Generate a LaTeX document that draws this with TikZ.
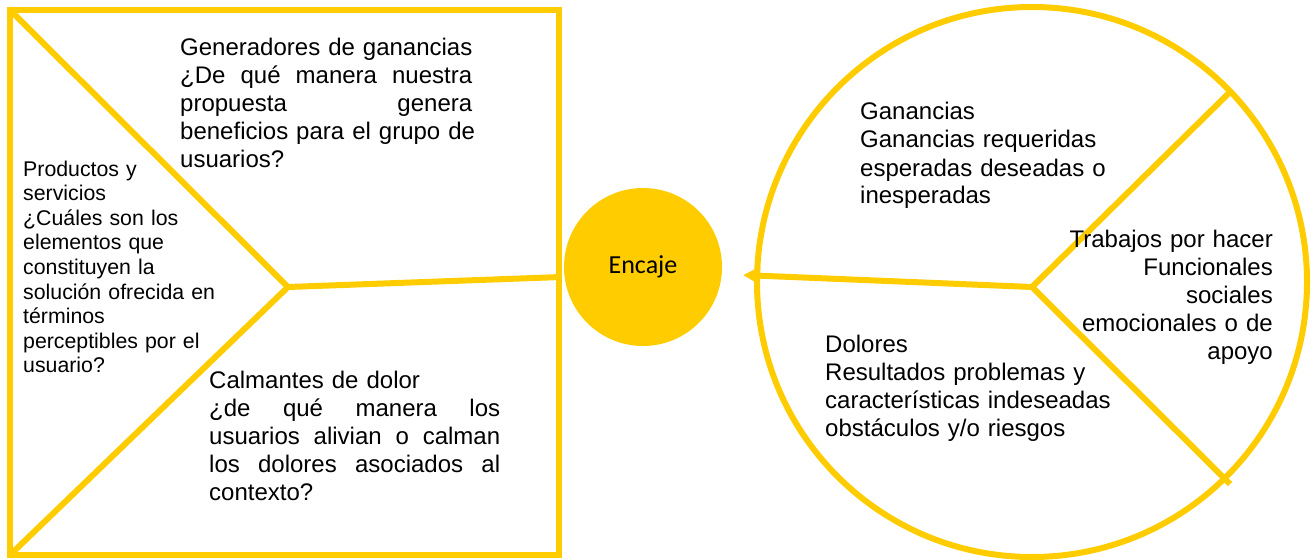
\documentclass[tikz,border=0pt]{standalone}
\usepackage{fontspec}
\setmainfont{Liberation Sans}
\newfontfamily\calib{Carlito}
\usetikzlibrary{arrows.meta}
\definecolor{yl}{HTML}{FFCC00}
\newcommand{\jline}[2]{\leavevmode\hbox to #1{#2}}
\begin{document}
\begin{tikzpicture}[x=1pt,y=-1pt,
  yline/.style={draw=yl,line width=6pt,line join=miter},
  txt/.style={font=\fontsize{24}{28}\selectfont,inner sep=0pt,align=left},
  small/.style={font=\fontsize{21.3}{24.6}\selectfont,inner sep=0pt,align=left},
  arr/.style={yline,-{Triangle[length=17pt,width=17pt]}}]
\useasboundingbox (0,0) rectangle (1313,559);
% value proposition square
\coordinate (tl) at (10,10);
\coordinate (tr) at (559,10);
\coordinate (br) at (559,555);
\coordinate (bl) at (10,555);
\coordinate (v) at (288,287);
\coordinate (ve) at (561,277);
\draw[yline] (tl) -- (tr) -- (br) -- (bl) -- cycle;
\draw[yline] (tl) -- (v) -- (bl);
\draw[yline] (v) -- (ve);
% fit circle
\node[circle,fill=yl,minimum size=158pt,inner sep=0pt,font=\calib\fontsize{26}{30}\selectfont] (enc) at (643,267) {Encaje};
% customer circle
\node[circle,yline,minimum size=550pt,inner sep=0pt] (cust) at (1032,282) {};
\coordinate (cv) at (1032,287);
\coordinate (ur) at (1230,92);
\coordinate (lr) at (1230,484);
\coordinate (tip) at (743,275);
\draw[yline] (ur) -- (cv) -- (lr);
\draw[arr] (cv) -- (tip);
% texts
\node[txt,text width=330pt,anchor=base west] (gen) at (180,56) {Generadores de ganancias\\
\jline{292pt}{¿De\hfill qué\hfill manera\hfill nuestra}\\
\jline{292pt}{propuesta\hfill genera}\\
\jline{292pt}{beneficios para el grupo de}\\
usuarios?};
\node[small,text width=230pt,anchor=base west] (prod) at (23,176) {Productos y\\servicios\\¿Cuáles son los\\elementos que\\constituyen la\\solución ofrecida en\\términos\\perceptibles por el\\usuario?};
\node[txt,text width=330pt,anchor=base west] (calm) at (209,388) {Calmantes de dolor\\
\jline{291pt}{¿de\hfill qué\hfill manera\hfill los}\\
\jline{291pt}{usuarios\hfill alivian\hfill o\hfill calman}\\
\jline{291pt}{los\hfill dolores\hfill asociados\hfill al}\\
contexto?};
\node[txt,text width=260pt,anchor=base west] (gan) at (860,120) {Ganancias\\Ganancias requeridas\\esperadas deseadas o\\inesperadas};
\node[txt,text width=230pt,align=right,anchor=base east] (trab) at (1273,247) {Trabajos por hacer\\Funcionales\\sociales\\emocionales o de\\apoyo};
\node[txt,text width=300pt,anchor=base west] (dol) at (825,352) {Dolores\\Resultados problemas y\\características indeseadas\\obstáculos y/o riesgos};
\end{tikzpicture}
\end{document}
